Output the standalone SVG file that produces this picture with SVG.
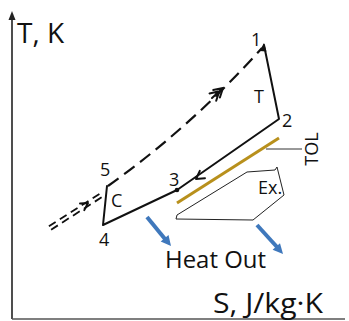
<svg xmlns="http://www.w3.org/2000/svg" width="349" height="321" viewBox="0 0 349 321">
<style>
text{font-family:"Open Sans","Noto Sans","Liberation Sans",sans-serif;fill:#111}
.lbl{font-size:18px}
.ln{fill:none;stroke:#111;stroke-width:2;stroke-linecap:round;stroke-linejoin:round}
.dash{fill:none;stroke:#111;stroke-width:2.2;stroke-dasharray:13 7}
.dd{fill:none;stroke:#111;stroke-width:1.8;stroke-dasharray:8 5}
.blue{stroke:#3F78BC;stroke-width:4;fill:none}
.bh{fill:#3F78BC}
</style>
<g id="axes">
<line x1="12" y1="18" x2="12" y2="319" stroke="#222" stroke-width="1.6"/>
<polygon points="12,11 8.5,20 15.5,20" fill="#222"/>
<line x1="12" y1="319" x2="345" y2="319" stroke="#555" stroke-width="1.6"/>
<text x="17" y="43" font-size="28">T, K</text>
<text x="213" y="313" font-size="28" textLength="110" lengthAdjust="spacingAndGlyphs">S, J/kg·K</text>
</g>
<g id="connectors">
<path class="ln" d="M264,45 L279,119 L177,190 L103,225 L107,186"/>
<path class="ln" d="M205,178.2 L196,179 L199.8,170.9"/>
<circle cx="177" cy="190" r="2.3" fill="#111"/>
<path class="dash" d="M108,186 Q192,126 262,48"/>
<polygon points="264,43 259.5,51 266.5,51.5" fill="#111"/>
<path class="ln" d="M213.2,90.1 L223,88 L219.9,97.5 M209.5,93.4 L219.3,91.3 L216.2,100.8 M212,98 L223,88"/>
<path class="dd" d="M48.9,226.3 L101.9,192.3 M51.1,229.7 L104.1,195.7"/>
<path class="ln" d="M80,203.4 L88,203 L84.3,210.1"/>
<line x1="177" y1="203" x2="279" y2="138" stroke="#B8901C" stroke-width="3"/>
<line x1="266" y1="149" x2="302" y2="149" stroke="#333" stroke-width="1"/>
<line class="blue" x1="147" y1="217" x2="165" y2="239"/>
<polygon class="bh" points="171,246 160.7,241.5 168.5,235.1"/>
<line class="blue" x1="257" y1="225" x2="277" y2="247"/>
<polygon class="bh" points="283,254 272.6,249.8 280,243.2"/>
</g>
<g id="n1"><text class="lbl" x="251" y="46">1</text></g>
<g id="n2"><text class="lbl" x="282" y="127">2</text></g>
<g id="n3"><text class="lbl" x="169" y="186">3</text></g>
<g id="n4"><text class="lbl" x="99" y="246">4</text></g>
<g id="n5"><text class="lbl" x="100" y="176">5</text></g>
<g id="turbine"><text class="lbl" x="254" y="103">T</text></g>
<g id="compressor"><text class="lbl" x="111" y="207">C</text></g>
<g id="tol"><text class="lbl" transform="translate(318,149) rotate(-90)" text-anchor="middle">TOL</text></g>
<g id="ex">
<polygon points="176,219 177,215 247,172 275,170 277,167 284,195 253,220" fill="none" stroke="#222" stroke-width="1"/>
<text class="lbl" x="258" y="194">Ex.</text>
</g>
<g id="heat"><text x="165" y="268" font-size="24" textLength="101" lengthAdjust="spacingAndGlyphs">Heat Out</text></g>
</svg>
